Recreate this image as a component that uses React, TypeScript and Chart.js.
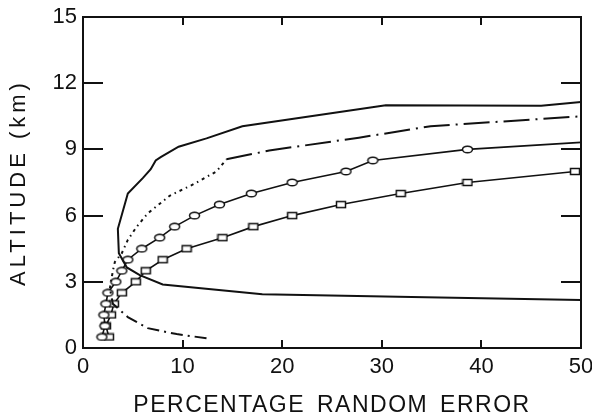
import { useEffect, useRef } from "react";
import { Chart, registerables } from "chart.js";

Chart.register(...registerables);

// Axis ticks
const errorTicks = [0, 10, 20, 30, 40, 50];
const altitudeTicks = [0, 3, 6, 9, 12, 15];

// Solid curve (one continuous trace: lower branch, nose, upper branch)
const solidError = [50, 33, 18, 8, 5.7, 4.4, 3.6, 3.5, 4.5, 6.0, 6.8, 7.3, 7.8, 9.6, 12.4, 16, 30.4, 46, 50];
const solidAltitude = [2.17, 2.31, 2.44, 2.88, 3.3, 3.65, 4.3, 5.4, 7.0, 7.7, 8.1, 8.5, 8.65, 9.12, 9.5, 10.05, 11.0, 10.98, 11.15];

// Dash-dot curve
const dashDotError = [12.4, 9.4, 6.5, 4.5, 3.0, 2.7, 3.0, 3.2, 3.9, 4.5, 5.4, 6.5, 8.7, 11, 13.4, 14.4, 18.7, 27.7, 34.9, 50];
const dashDotAltitude = [0.44, 0.63, 0.9, 1.4, 2.0, 2.7, 3.5, 3.9, 4.3, 4.9, 5.5, 6.1, 6.9, 7.4, 8.0, 8.55, 8.95, 9.53, 10.05, 10.5];

// Oval-marker curve (last point is the line end at the frame, no marker)
const ovalError = [1.9, 2.2, 2.1, 2.3, 2.5, 3.3, 3.9, 4.5, 5.9, 7.7, 9.2, 11.2, 13.7, 16.9, 21.0, 26.4, 29.1, 38.6, 50];
const ovalAltitude = [0.5, 1.0, 1.5, 2.0, 2.5, 3.0, 3.5, 4.0, 4.5, 5.0, 5.5, 6.0, 6.5, 7.0, 7.5, 8.0, 8.5, 9.0, 9.32];

// Box-marker curve (last point is the line end at the frame, no marker)
const boxError = [2.6, 2.3, 2.8, 3.1, 3.9, 5.3, 6.3, 8.0, 10.4, 14.0, 17.1, 21.0, 25.9, 31.9, 38.6, 49.4, 50];
const boxAltitude = [0.5, 1.0, 1.5, 2.0, 2.5, 3.0, 3.5, 4.0, 4.5, 5.0, 5.5, 6.0, 6.5, 7.0, 7.5, 8.0, 8.04];

const INK = "#111";
const FONT = "'Liberation Sans', Arial, Helvetica, sans-serif";

const toPoints = (xs: number[], ys: number[]) => xs.map((x, i) => ({ x, y: ys[i] }));

function makeOval(): HTMLCanvasElement {
  const c = document.createElement("canvas");
  c.width = 13;
  c.height = 9;
  const g = c.getContext("2d")!;
  g.beginPath();
  g.ellipse(6.5, 4.5, 5, 3.3, 0, 0, Math.PI * 2);
  g.fillStyle = "#fff";
  g.fill();
  g.lineWidth = 1.5;
  g.strokeStyle = INK;
  g.stroke();
  return c;
}

function makeBox(): HTMLCanvasElement {
  const c = document.createElement("canvas");
  c.width = 12;
  c.height = 9;
  const g = c.getContext("2d")!;
  g.fillStyle = "#fff";
  g.fillRect(1.5, 1.5, 9, 6);
  g.lineWidth = 1.5;
  g.strokeStyle = INK;
  g.strokeRect(1.5, 1.5, 9, 6);
  return c;
}

// Frame, inward tick marks and spaced axis titles
const framePlugin = {
  id: "frame",
  afterDraw(chart: any) {
    const { ctx, chartArea: a, scales } = chart;
    const xs = scales.x;
    const ys = scales.y;
    ctx.save();
    ctx.strokeStyle = INK;
    ctx.lineWidth = 2;
    ctx.strokeRect(a.left, a.top, a.right - a.left, a.bottom - a.top);
    ctx.beginPath();
    for (const v of altitudeTicks.slice(1, -1)) {
      const y = Math.round(ys.getPixelForValue(v));
      ctx.moveTo(a.left, y);
      ctx.lineTo(a.left + 20, y);
      ctx.moveTo(a.right, y);
      ctx.lineTo(a.right - 20, y);
    }
    for (const v of errorTicks.slice(1, -1)) {
      const x = Math.round(xs.getPixelForValue(v));
      ctx.moveTo(x, a.bottom);
      ctx.lineTo(x, a.bottom - 8);
      ctx.moveTo(x, a.top);
      ctx.lineTo(x, a.top + 8);
    }
    ctx.stroke();

    ctx.fillStyle = INK;
    ctx.textAlign = "center";
    ctx.textBaseline = "alphabetic";
    ctx.font = `23px ${FONT}`;
    (ctx as any).letterSpacing = "1.5px";
    (ctx as any).wordSpacing = "4px";
    ctx.fillText("PERCENTAGE RANDOM ERROR", (a.left + a.right) / 2, 412);

    ctx.save();
    ctx.translate(25, (a.top + a.bottom) / 2);
    ctx.rotate(-Math.PI / 2);
    ctx.font = `22px ${FONT}`;
    (ctx as any).letterSpacing = "4px";
    (ctx as any).wordSpacing = "0px";
    ctx.fillText("ALTITUDE (km)", 0, 0);
    ctx.restore();
    ctx.restore();
  },
};

export default function App() {
  const ref = useRef<HTMLCanvasElement | null>(null);

  useEffect(() => {
    const oval = makeOval();
    const box = makeBox();
    const lastHidden = (n: number) => (c: any) => (c.dataIndex === n - 1 ? 0 : 5);

    const dashFor = (c: any) => {
      const y = c.p0.parsed.y;
      if (y >= 8.5) return [26, 6, 2, 6];
      if (y >= 2.5) return [3, 4, 1.5, 4];
      return [12, 5, 2, 5];
    };

    const chart = new Chart(ref.current!, {
      type: "line",
      data: {
        datasets: [
          {
            data: toPoints(solidError, solidAltitude),
            borderColor: INK,
            borderWidth: 2,
            pointRadius: 0,
            tension: 0,
          },
          {
            data: toPoints(dashDotError, dashDotAltitude),
            borderColor: INK,
            borderWidth: 2,
            pointRadius: 0,
            tension: 0,
            segment: { borderDash: dashFor },
          },
          {
            data: toPoints(ovalError, ovalAltitude),
            borderColor: INK,
            borderWidth: 1.6,
            pointStyle: oval,
            pointRadius: lastHidden(ovalError.length),
            tension: 0,
          },
          {
            data: toPoints(boxError, boxAltitude),
            borderColor: INK,
            borderWidth: 1.6,
            pointStyle: box,
            pointRadius: lastHidden(boxError.length),
            tension: 0,
          },
        ],
      },
      options: {
        responsive: false,
        animation: false,
        layout: { padding: { left: 0, top: 17, right: 11, bottom: 0 } },
        plugins: { legend: { display: false }, tooltip: { enabled: false } },
        scales: {
          x: {
            type: "linear",
            min: 0,
            max: 50,
            afterBuildTicks: (s: any) => {
              s.ticks = errorTicks.map((value) => ({ value }));
            },
            ticks: { color: INK, font: { family: FONT, size: 22 }, padding: 6, maxRotation: 0 },
            grid: { display: false, drawTicks: false },
            border: { display: false },
            afterFit: (s: any) => {
              s.height = 70;
              s.paddingLeft = 0;
              s.paddingRight = 0;
            },
          },
          y: {
            type: "linear",
            min: 0,
            max: 15,
            afterBuildTicks: (s: any) => {
              s.ticks = altitudeTicks.map((value) => ({ value }));
            },
            ticks: { color: INK, font: { family: FONT, size: 22 }, padding: 6 },
            grid: { display: false, drawTicks: false },
            border: { display: false },
            afterFit: (s: any) => {
              s.width = 83;
              s.paddingTop = 0;
              s.paddingBottom = 0;
            },
          },
        },
      },
      plugins: [framePlugin],
    });
    return () => chart.destroy();
  }, []);

  return (
    <div style={{ position: "fixed", left: 0, top: 0, width: 592, height: 418, background: "#fff" }}>
      <canvas ref={ref} width={592} height={418} />
    </div>
  );
}
